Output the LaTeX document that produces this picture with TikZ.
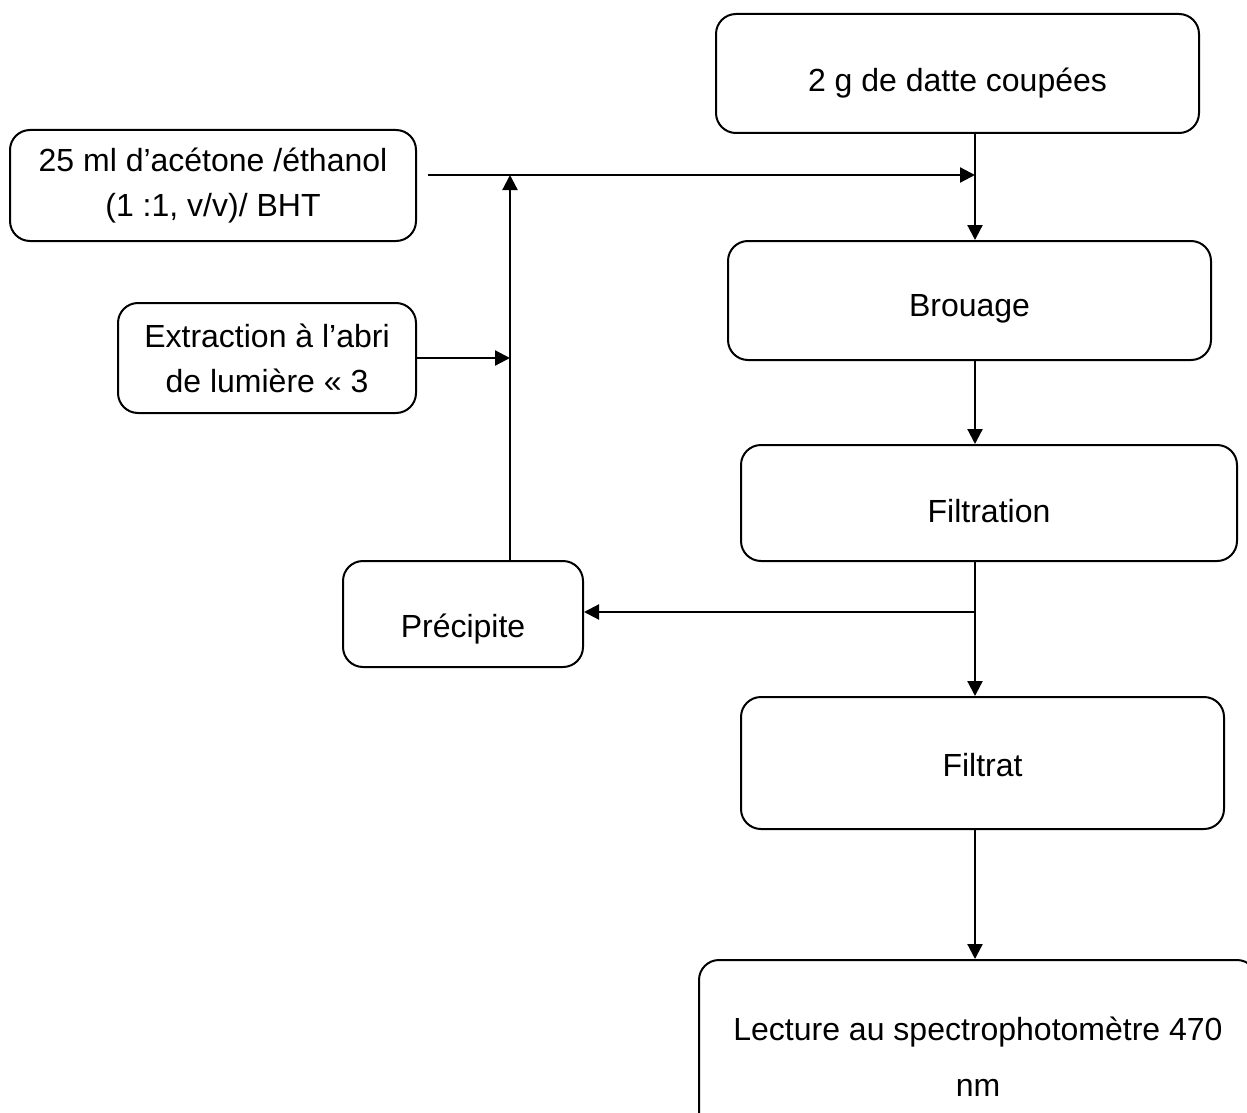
\documentclass[tikz,border=0pt]{standalone}
\usepackage{fontspec}
\setmainfont{Liberation Sans}
\usetikzlibrary{arrows.meta}
\begin{document}
\begin{tikzpicture}[x=1pt,y=-1pt,
  box/.style={draw, line width=2pt, rounded corners=20pt, align=center, inner sep=0pt,
    font=\fontsize{32}{45}\selectfont},
  tlow/.style={text height=#1, text depth=0pt},
  arr/.style={line width=2.2pt, -{Triangle[length=15pt,width=15pt]}}]
\useasboundingbox (0,0) rectangle (1247,1113);
\clip (0,0) rectangle (1247,1113);
\node[box, tlow=36pt, minimum width=483pt, minimum height=119pt] (A) at (957.5,73.5) {2 g de datte coupées};
\node[box, minimum width=406pt, minimum height=111pt] (B) at (213,185.5) {25 ml d’acétone /éthanol\\(1 :1, v/v)/ BHT};
\node[box, tlow=32pt, minimum width=483pt, minimum height=119pt] (C) at (969.5,300.5) {Brouage};
\node[box, minimum width=298pt, minimum height=110pt] (D) at (267,358) {Extraction à l’abri\\de lumière « 3};
\node[box, tlow=39pt, minimum width=496pt, minimum height=116pt] (E) at (989,503) {Filtration};
\node[box, tlow=47pt, minimum width=240pt, minimum height=106pt] (F) at (463,614) {Précipite};
\node[box, tlow=27pt, minimum width=483pt, minimum height=132pt] (G) at (982.5,763) {Filtrat};
\node[box, minimum width=558pt, minimum height=194pt, font=\fontsize{32}{56}\selectfont] (H) at (978,1057) {Lecture au spectrophotomètre 470\\nm};
\coordinate (col) at (975,0);
\coordinate (col2) at (510,0);
\coordinate (hs) at (428,175);
\coordinate (br) at (975,612);
\draw[arr] (A.south -| col) -- (C.north -| col);
\draw[arr] (hs) -- (hs -| col);
\draw[arr] (F.north -| col2) -- (hs -| col2);
\draw[arr] (D.east) -- (D.east -| col2);
\draw[arr] (C.south -| col) -- (E.north -| col);
\draw[arr] (E.south -| col) -- (G.north -| col);
\draw[arr] (br) -- (br -| F.east);
\draw[arr] (G.south -| col) -- (H.north -| col);
\end{tikzpicture}
\end{document}
